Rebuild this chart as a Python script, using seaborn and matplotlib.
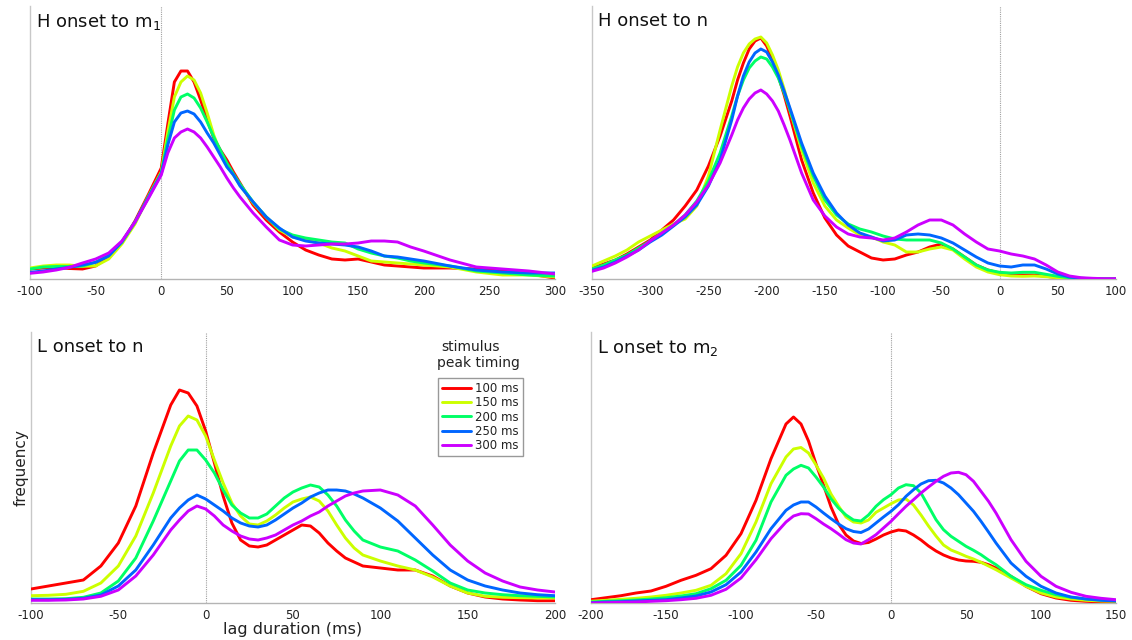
import numpy as np
import pandas as pd
import matplotlib
matplotlib.use("Agg")
import matplotlib.pyplot as plt
import seaborn as sns

# Stimulus peak timings and the colour used for each
TIMINGS = ["100 ms", "150 ms", "200 ms", "250 ms", "300 ms"]
COLORS = ["#ff0000", "#ccff00", "#00ff66", "#0066ff", "#cc00ff"]

# ---- H onset to m1 (lag in ms, frequency in arbitrary units) ----
h_m1_lag = [-100, -90, -80, -70, -60, -50, -40, -30, -20, -10,
            0, 5, 10, 15, 20, 25, 30, 35, 40, 45, 50, 55, 60,
            70, 80, 90, 100, 110, 120, 130, 140, 150, 160, 170, 180, 190, 200,
            220, 240, 260, 280, 300]
h_m1_100 = [10, 11, 11.5, 10.5, 10, 13, 22, 36, 58, 84,
            111, 155, 197, 208, 208, 197, 179, 159, 141, 129, 119, 107, 96,
            74, 59, 47, 37, 29, 24, 20, 19, 20, 17, 14, 13, 12, 11,
            11, 10, 8, 5, 1]
h_m1_150 = [11, 13, 14, 14, 12.7, 13, 20, 35, 55, 82,
            107, 147, 182, 197, 203, 199, 186, 166, 144, 127, 114, 104, 94,
            76, 62, 49, 42, 39, 36, 31, 28, 23, 18, 17, 16, 15, 14,
            12, 7, 4, 4, 2]
h_m1_200 = [10, 12, 12.5, 12.5, 13, 16.7, 24, 37, 57, 82,
            106, 140, 169, 182, 185, 181, 171, 157, 142, 129, 116, 105, 95,
            77, 62, 50, 44, 41, 39, 37, 36, 30, 26, 23, 21, 18, 16,
            13, 8, 6, 4, 3]
h_m1_250 = [6.7, 8, 10, 11.7, 14, 16.7, 23, 37, 57, 81,
            105, 134, 157, 166, 168, 165, 157, 146, 136, 124, 112, 104, 93,
            77, 62, 51, 42, 38, 36, 35, 34, 32, 28, 23, 22, 20, 18,
            13, 9, 7, 6, 6]
h_m1_300 = [5.7, 7, 9, 11.7, 16, 20, 26, 38, 57, 80,
            104, 126, 141, 147, 150, 147, 141, 132, 122, 112, 101, 91, 82,
            66, 52, 39, 34, 33, 34, 35, 35, 36, 38, 38, 37, 32, 28,
            19, 12, 10, 8, 5]

# ---- H onset to n ----
h_n_lag = [-350, -340, -330, -320, -310, -300, -290, -280, -270, -260, -250,
           -240, -230, -225, -220, -215, -210, -205, -200, -195, -190, -185,
           -180, -170, -160, -150,
           -140, -130, -120, -110, -100, -90, -80, -70, -60, -50, -40, -30,
           -20, -10, 0, 10, 20, 30, 40, 50, 60, 70, 80, 90, 100]
h_n_100 = [11, 15, 19, 25, 32, 39, 49, 59, 73, 89, 113,
           143, 178, 199, 216, 230, 238, 241, 233, 220, 203, 184,
           163, 119, 86, 61,
           44, 33, 27, 21, 19, 20, 24, 27, 32, 35, 30, 22,
           14, 9, 6, 4.3, 4, 4, 2.7, 1.3, 0.7, 0.3, 0, 0, 0]
h_n_150 = [13, 18, 23, 29, 37, 43, 49, 55, 60, 73, 103,
           149, 193, 212, 226, 235, 240, 242, 236, 224, 209, 190,
           169, 129, 96, 73,
           59, 51, 44, 42, 37, 34, 27, 27, 30, 32, 29, 20,
           12, 7, 4.3, 3, 2.7, 3, 2.3, 1.3, 0.7, 0, 0, 0, 0]
h_n_200 = [10, 14, 19, 24, 31, 38, 46, 54, 64, 78, 98,
           126, 163, 183, 199, 211, 218, 222, 220, 212, 201, 186,
           169, 133, 103, 79,
           64, 55, 50, 47, 43, 40, 39, 39, 39, 36, 30, 22,
           14, 9, 6.7, 6, 6.7, 6.7, 4.7, 2.7, 1.3, 0.7, 0.3, 0, 0]
h_n_250 = [8.7, 12, 17, 23, 29, 37, 44, 53, 62, 74, 93,
           119, 159, 183, 203, 217, 226, 230, 227, 217, 204, 188,
           171, 136, 106, 83,
           66, 54, 46, 42, 38, 39, 44, 45, 44, 41, 36, 29,
           22, 16, 13, 12, 14, 14, 10, 5, 2, 0.7, 0.3, 0, 0]
h_n_300 = [7.7, 11, 16, 22, 29, 38, 46, 54, 64, 77, 94,
           116, 144, 159, 171, 180, 186, 189, 185, 178, 168, 154,
           139, 106, 79, 63,
           52, 45, 42, 41, 39, 41, 47, 54, 59, 59, 54, 45,
           37, 30, 28, 25, 23, 20, 14, 7, 3, 1.3, 0.7, 0.3, 0.3]

# ---- L onset to n ----
l_n_lag = [-100, -90, -80, -70, -60, -50, -40, -30, -20, -15, -10, -5,
           0, 5, 10, 15, 20, 25, 30, 35, 40, 45, 50, 55, 60, 65, 70, 75, 80, 85,
           90, 100, 110, 120, 130, 140, 150, 160, 170, 180, 190, 200]
l_n_100 = [14, 17, 20, 23, 37, 60, 97, 150, 198, 213, 210, 197,
           172, 140, 107, 80, 63, 57, 56, 58, 63, 68, 73, 78, 77, 70, 60, 52, 45, 41,
           37, 35, 33, 33, 27, 17, 10, 6, 4, 3, 2.3, 2.3]
l_n_150 = [7.3, 7.7, 8.7, 11.7, 20, 37, 67, 110, 157, 177, 187, 183,
           167, 143, 120, 100, 87, 79, 78, 82, 88, 95, 101, 104, 106, 102, 92, 78, 65, 55,
           48, 42, 37, 33, 26, 17, 10, 6.7, 5.7, 5.3, 5, 5]
l_n_200 = [4, 4, 4.3, 5.7, 10, 22, 45, 82, 122, 142, 153, 153,
           143, 130, 113, 98, 90, 85, 85, 89, 97, 105, 111, 115, 118, 116, 108, 97, 83, 72,
           63, 56, 52, 43, 32, 20, 13, 10, 8.3, 7.3, 6.7, 6]
l_n_250 = [3.3, 3.3, 3.7, 4.7, 8, 17, 33, 58, 85, 95, 103, 108,
           104, 98, 92, 85, 80, 77, 76, 78, 83, 89, 95, 100, 106, 110, 113, 113, 112, 109,
           105, 95, 82, 65, 48, 33, 23, 17, 13, 10, 8.3, 7.3]
l_n_300 = [2.7, 2.7, 3, 4, 6.7, 13, 27, 48, 73, 83, 92, 97,
           94, 87, 78, 72, 67, 64, 63, 65, 68, 73, 78, 82, 87, 91, 97, 102, 107, 110,
           112, 113, 108, 97, 78, 58, 42, 30, 22, 16, 13, 11]

# ---- L onset to m2 ----
l_m2_lag = [-200, -190, -180, -170, -160, -150, -140, -130, -120, -110, -100, -90, -80,
            -70, -65, -60, -55, -50, -45, -40, -35, -30, -25, -20, -15, -10, -5,
            0, 5, 10, 15, 20, 25, 30, 35, 40, 45, 50, 55, 60, 65, 70,
            80, 90, 100, 110, 120, 130, 140, 150]
l_m2_100 = [3.3, 5.3, 7.3, 10, 12, 16.7, 22.7, 27.7, 34.3, 47.7, 69.3, 102.7, 144.3,
            179, 186, 179, 162, 139, 118, 96, 79, 68, 62, 59.5, 60.5, 64, 68,
            71, 73, 72, 68, 63, 57, 52, 48, 45, 43, 42, 41.7, 40.7, 38.3, 35,
            26.7, 16.7, 9.3, 5, 2.7, 1.7, 1, 1]
l_m2_150 = [1.7, 2.7, 3.7, 4.7, 6, 7.7, 10, 12.7, 17.7, 29.3, 49.3, 81, 119.3,
            146, 154, 155.5, 150, 138, 125, 109, 97, 86, 81, 80, 83, 90.7, 95,
            99.3, 103, 104, 98, 88, 77, 67, 58, 53, 50, 46.7, 44, 40.7, 37, 33.3,
            25, 16.7, 10, 6, 4, 2.7, 2, 1.7]
l_m2_200 = [1, 1.7, 2.3, 3, 4, 5.3, 7, 9.3, 14.3, 22.7, 37.7, 62.7, 101,
            127.7, 134, 137.7, 135, 126, 116, 104.3, 95, 88, 83, 82, 88, 96.7, 103.3,
            108.3, 115, 118.3, 117.3, 110, 96.7, 83.3, 73.3, 66.7, 61.7, 56.7, 52.7, 48.3, 43, 38.3,
            26.7, 18.3, 12.7, 8.3, 5.7, 4, 3, 2.3]
l_m2_250 = [0.3, 1, 1.3, 2, 2.7, 3.3, 5, 7, 11, 18.3, 31, 51, 74.3,
            92.7, 98, 101, 101, 96, 90, 84.3, 79, 74.3, 71.5, 70.5, 74, 80, 86,
            91.7, 98.3, 106.7, 113.3, 119, 122.3, 122.7, 120, 115, 108.3, 100, 91.7, 81.7, 71, 60,
            40, 26.7, 16.7, 10, 6, 4, 2.7, 2]
l_m2_300 = [0, 0.3, 0.7, 1, 1.7, 2.3, 3.3, 4.7, 7.7, 13.7, 25, 43.3, 64.3,
            81, 87, 89.3, 89, 84.3, 79, 74.3, 69, 63.3, 60, 59, 63.3, 68.3, 75,
            81.7, 89.3, 96.7, 103.3, 110, 116, 121.7, 126.7, 130, 130.7, 128.3, 121.7, 111.7, 101.7, 90,
            63.3, 41.7, 26.7, 16.7, 10.7, 6.7, 4.7, 3.3]


def long_frame(lag, curves):
    """Stack one panel's curves into a tidy frame for seaborn."""
    for c in curves:
        assert len(c) == len(lag)
    return pd.DataFrame({
        "lag": np.tile(np.asarray(lag, float), len(curves)),
        "freq": np.concatenate([np.asarray(c, float) for c in curves]),
        "timing": np.repeat(TIMINGS, len(lag)),
    })


sns.set_theme(style="white")
plt.rcParams["font.family"] = ["DejaVu Sans"]
plt.rcParams["axes.unicode_minus"] = False
plt.rcParams["mathtext.default"] = "regular"
plt.rcParams["lines.solid_joinstyle"] = "round"
plt.rcParams["lines.solid_capstyle"] = "round"

W, H = 1132, 640
fig = plt.figure(figsize=(W / 100, H / 100), dpi=100)


def px_rect(x0, x1, ytop, ybot):
    return [x0 / W, 1 - ybot / H, (x1 - x0) / W, (ybot - ytop) / H]


panels = [
    dict(rect=px_rect(30, 555, 6, 279), title="H onset to m$_1$",
         lag=h_m1_lag, curves=[h_m1_100, h_m1_150, h_m1_200, h_m1_250, h_m1_300],
         xlim=(-100, 300), top=273),
    dict(rect=px_rect(592, 1116, 6, 279), title="H onset to n",
         lag=h_n_lag, curves=[h_n_100, h_n_150, h_n_200, h_n_250, h_n_300],
         xlim=(-350, 100), top=273),
    dict(rect=px_rect(31, 555, 332, 603), title="L onset to n",
         lag=l_n_lag, curves=[l_n_100, l_n_150, l_n_200, l_n_250, l_n_300],
         xlim=(-100, 200), top=271),
    dict(rect=px_rect(591, 1116, 332, 603), title="L onset to m$_2$",
         lag=l_m2_lag, curves=[l_m2_100, l_m2_150, l_m2_200, l_m2_250, l_m2_300],
         xlim=(-200, 150), top=271),
]

palette = dict(zip(TIMINGS, COLORS))

for i, p in enumerate(panels):
    ax = fig.add_axes(p["rect"])
    df = long_frame(p["lag"], p["curves"])
    ax.axvline(0, color="#a0a0a0", lw=0.8, ls=(0, (1, 1)), zorder=1)
    sns.lineplot(data=df, x="lag", y="freq", hue="timing", palette=palette,
                 hue_order=TIMINGS, linewidth=2.1, estimator=None, sort=False,
                 legend=(i == 2), ax=ax, zorder=3)
    ax.set_xlim(*p["xlim"])
    ax.set_ylim(0, p["top"])
    ax.set_xticks(np.arange(p["xlim"][0], p["xlim"][1] + 1, 50))
    ax.set_yticks([])
    ax.set_xlabel("")
    ax.set_ylabel("")
    for side in ("top", "right"):
        ax.spines[side].set_visible(False)
    ax.spines["left"].set_color("#c8c8c8")
    ax.spines["left"].set_linewidth(1.0)
    ax.spines["bottom"].set_color("#b4b4b4")
    ax.spines["bottom"].set_linewidth(1.0)
    ax.tick_params(axis="x", direction="in", length=3, width=0.8,
                   color="#aaaaaa", labelsize=8.5, labelcolor="#222222", pad=4)
    ax.text(0.011, 0.978, p["title"], transform=ax.transAxes, ha="left",
            va="top", fontsize=13, color="#111111")

    if i == 2:
        ax.set_xlabel("lag duration (ms)", fontsize=11.5, color="#222222", labelpad=0)
        ax.set_ylabel("frequency", fontsize=11, color="#222222", labelpad=2)
        sns.move_legend(ax, "upper left", bbox_to_anchor=(0.777, 0.83),
                        title=None, frameon=True, fontsize=8.5,
                        handlelength=2.4, handletextpad=0.35,
                        labelspacing=0.1, borderpad=0.35, borderaxespad=0,
                        fancybox=False, edgecolor="#999999", framealpha=1)
        leg = ax.get_legend()
        leg.get_frame().set_linewidth(1.0)
        for t in leg.get_texts():
            t.set_color("#222222")
        ax.text((471 - 31) / 524, (603 - 347) / 271, "stimulus",
                transform=ax.transAxes, ha="center", va="center",
                fontsize=10, color="#222222")
        ax.text((478 - 31) / 524, (603 - 363) / 271, "peak timing",
                transform=ax.transAxes, ha="center", va="center",
                fontsize=10, color="#222222")

fig.savefig("out.png", dpi=100)
